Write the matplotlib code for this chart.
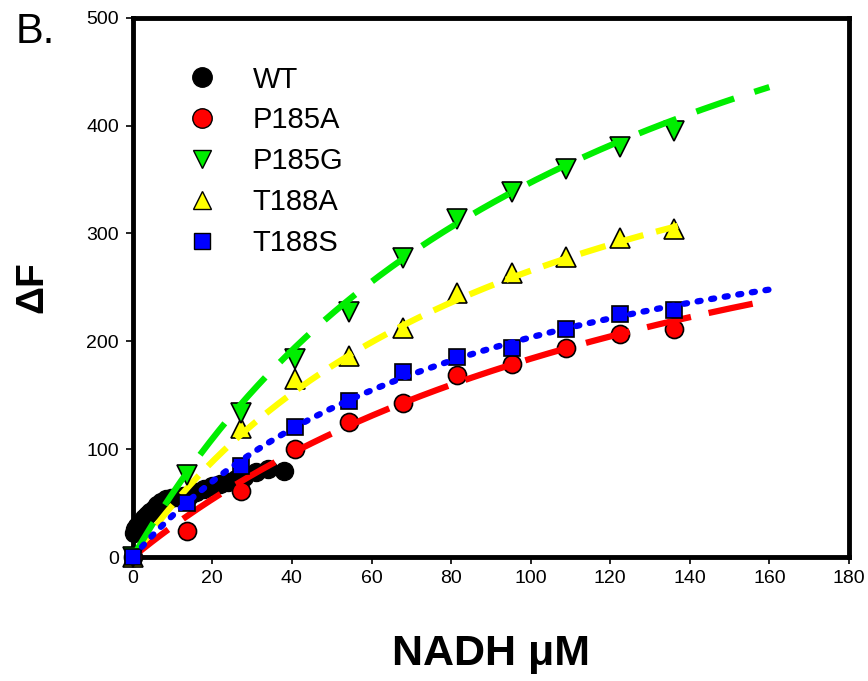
import matplotlib
matplotlib.use("Agg")
import matplotlib.pyplot as plt
from matplotlib.lines import Line2D
import numpy as np

plt.rcParams['font.family'] = ['Liberation Sans', 'DejaVu Sans']

# WT titration (dense, low range)
wt_x = [0.2, 0.6, 1.0, 1.6, 2.2, 2.9, 3.6, 4.4, 5.3, 6.2, 7.2, 8.3, 9.5, 11,
        12.5, 14, 16, 18, 20, 22, 24, 26, 28, 31, 34, 38]
wt_y = [22, 26, 29, 31, 33, 36, 39, 42, 45, 48, 51, 54, 55, 56,
        57, 57, 60, 63, 66, 68, 70, 72, 74, 79, 82, 80]

# mutants, same NADH steps
nadh = [0, 13.6, 27.2, 40.8, 54.4, 68, 81.6, 95.2, 108.8, 122.4, 136]
p185a = [0, 24, 61, 100, 125, 143, 169, 179, 194, 207, 211]
p185g = [0, 76, 134, 184, 227, 277, 313, 338, 360, 380, 395]
t188s = [0, 50, 84, 121, 145, 172, 185, 194, 211, 225, 229]
# T188A: no visible point at 13.6
t188a_x = [0, 27.2, 40.8, 54.4, 68, 81.6, 95.2, 108.8, 122.4, 136]
t188a = [0, 120, 165, 186, 212, 245, 263, 278, 296, 304]

# hyperbolic fits (Bmax, Kd, end of curve)
fit_bmax = {'P185A': 467, 'P185G': 757, 'T188A': 531, 'T188S': 389}
fit_kd = {'P185A': 154, 'P185G': 118, 'T188A': 100, 'T188S': 91}
fit_end = {'P185A': 160, 'P185G': 160, 'T188A': 137, 'T188S': 160}

fig = plt.figure(figsize=(8.68, 6.81), dpi=100)
ax = fig.add_axes([0.153, 0.182, 0.825, 0.792])

# WT: points joined by a line
ax.plot(wt_x, wt_y, '-', color='black', lw=4, zorder=2)
ax.plot(wt_x, wt_y, 'o', color='black', ms=13, mec='black', zorder=2,
        clip_on=False)

series = [
    ('P185A', nadh, p185a, 'o', '#ff0000', (0, (7.2, 2.9)), 13),
    ('P185G', nadh, p185g, 'v', '#00ee00', (0, (6.4, 3.4)), 14),
    ('T188A', t188a_x, t188a, '^', '#ffff00', (0, (4.2, 2.1)), 14),
    ('T188S', nadh, t188s, 's', '#0000ff', (0, (0.5, 1.7)), 12),
]

z = {'P185A': 3, 'T188A': 4, 'P185G': 5, 'T188S': 6}
for name, x, y, m, c, ls, ms in series:
    xx = np.linspace(0, fit_end[name], 200)
    yy = fit_bmax[name] * xx / (fit_kd[name] + xx)
    ax.plot(xx, yy, color=c, lw=4.5, linestyle=ls, zorder=z[name] + 0.5,
            dash_capstyle='round' if name == 'T188S' else 'butt')
    ax.plot(x, y, m, color=c, mec='black', mew=1.2, ms=ms, zorder=z[name],
            clip_on=False)

ax.set_xlim(0, 180)
ax.set_ylim(0, 500)
ax.set_xticks(np.arange(0, 181, 20))
ax.set_yticks(np.arange(0, 501, 100))
for s in ax.spines.values():
    s.set_linewidth(3.5)
ax.tick_params(direction='out', length=5, width=1.2, labelsize=14)
ax.tick_params(axis='y', pad=5)
ax.tick_params(axis='x', pad=4)

ax.set_xlabel('NADH \u03bcM', fontsize=31, fontweight='bold', labelpad=34)
ax.set_ylabel('\u0394F', fontsize=28, fontweight='bold', labelpad=26)
fig.text(0.018, 0.937, 'B.', fontsize=30)

handles = [
    Line2D([], [], ls='none', marker='o', color='black', ms=14),
    Line2D([], [], ls='none', marker='o', color='#ff0000', mec='black', ms=14),
    Line2D([], [], ls='none', marker='v', color='#00ee00', mec='black', ms=13),
    Line2D([], [], ls='none', marker='^', color='#ffff00', mec='black', ms=13),
    Line2D([], [], ls='none', marker='s', color='#0000ff', mec='black', ms=12),
]
ax.legend(handles, ['WT', 'P185A', 'P185G', 'T188A', 'T188S'],
          loc='upper left', bbox_to_anchor=(0.039, 0.96), frameon=False,
          fontsize=21, handletextpad=1.25, labelspacing=0.44,
          handlelength=1.0)

fig.savefig('out.png', dpi=100)
